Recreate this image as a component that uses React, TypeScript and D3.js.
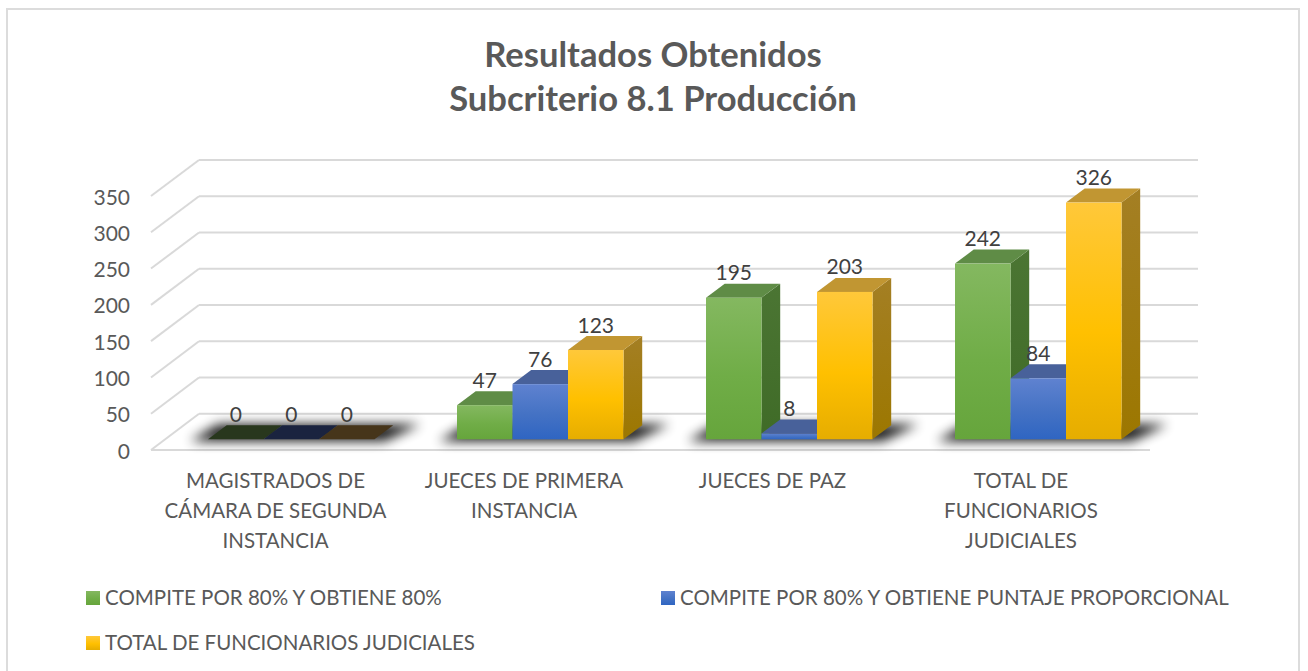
import React from 'react';
import * as d3 from 'd3';

const categories = [
  ['MAGISTRADOS DE', 'CÁMARA DE SEGUNDA', 'INSTANCIA'],
  ['JUECES DE PRIMERA', 'INSTANCIA'],
  ['JUECES DE PAZ'],
  ['TOTAL DE', 'FUNCIONARIOS', 'JUDICIALES'],
];
const seriesNames = [
  'COMPITE POR 80% Y OBTIENE 80%',
  'COMPITE POR 80% Y OBTIENE PUNTAJE PROPORCIONAL',
  'TOTAL DE FUNCIONARIOS JUDICIALES',
];
const verde = [0, 47, 195, 242];
const azul = [0, 76, 8, 84];
const amarillo = [0, 123, 203, 326];
const seriesValues = [verde, azul, amarillo];
const yTicks = [0, 50, 100, 150, 200, 250, 300, 350];

const colors = [
  { light: '#84b860', mid: '#70ad47', dark: '#66a53c', top: '#5f8c46', side: '#4b7533', sideDark: '#3f6b27', flat: '#28371d' },
  { light: '#5f82d0', mid: '#4472c4', dark: '#2f65c2', top: '#48619a', side: '#334f88', sideDark: '#2c4a80', flat: '#1a233f' },
  { light: '#ffc83a', mid: '#ffc000', dark: '#e6ad00', top: '#c19632', side: '#a47f24', sideDark: '#9c7700', flat: '#46351a' },
];

const FONT = 'Lato, Carlito, sans-serif';
const W = 1308;
const H = 671;
const depthX = 18.7;
const depthY = 14;

const y = d3.scaleLinear().domain([0, 350]).range([439.3, 185.2]);
const x0 = d3.scaleBand<number>().domain(d3.range(4)).range([166.75, 1162.75]).paddingInner(0.3335).paddingOuter(0.16675);
const x1 = d3.scaleBand<number>().domain(d3.range(3)).range([0, 166.5]);
const gridY = d3.scaleLinear().domain([0, 350]).range([413.7, 160]);
const axisY = d3.scaleLinear().domain([0, 350]).range([450, 196]);
const labelX = d3.scaleLinear().domain([0, 3]).range([275.5, 1021]);

export default function App() {
  const bw = x1.bandwidth();
  const groupX = (i: number) => (x0(i) as number) + x0.bandwidth() / 2 - 83.25;

  return (
    <svg width={W} height={H} style={{ position: 'absolute', left: 0, top: 0 }} fontFamily={FONT}>
      <defs>
        {colors.map((c, i) => (
          <React.Fragment key={i}>
            <linearGradient id={`front${i}`} x1="0" y1="0" x2="0" y2="1">
              <stop offset="0" stopColor={c.light} />
              <stop offset="0.55" stopColor={c.mid} />
              <stop offset="1" stopColor={c.dark} />
            </linearGradient>
            <linearGradient id={`side${i}`} x1="0" y1="0" x2="0" y2="1">
              <stop offset="0" stopColor={c.side} />
              <stop offset="1" stopColor={c.sideDark} />
            </linearGradient>
          </React.Fragment>
        ))}
        <filter id="sombra" x="-20%" y="-100%" width="140%" height="300%">
          <feGaussianBlur stdDeviation="6" />
        </filter>
      </defs>

      <rect x={0} y={0} width={W} height={H} fill="#fff" />
      <rect x={7} y={9} width={1292} height={680} fill="#fff" stroke="#dcdcdc" strokeWidth={2} />

      <text x={653} y={67} textAnchor="middle" fontSize={34.6} fontWeight={700} fill="#595959">Resultados Obtenidos</text>
      <text x={653} y={111} textAnchor="middle" fontSize={34.6} fontWeight={700} fill="#595959">Subcriterio 8.1 Producción</text>

      {/* paredes y piso */}
      {yTicks.map((t) => (
        <g key={t} stroke="#d9d9d9" strokeWidth={2} fill="none">
          <line x1={199} x2={1198} y1={gridY(t)} y2={gridY(t)} />
          <line x1={151} x2={199} y1={axisY(t)} y2={gridY(t)} />
        </g>
      ))}
      <line x1={151} x2={1150} y1={450} y2={450} stroke="#d9d9d9" strokeWidth={2} />

      {yTicks.map((t) => (
        <text key={t} x={130} y={axisY(t) + 8.5} textAnchor="end" fontSize={21} fill="#595959">{t}</text>
      ))}

      {/* sombras */}
      {categories.map((_, i) => {
        const gx = groupX(i);
        const base = y(0);
        return (
          <path
            key={i}
            d={`M${gx - 18},${base + 2}L${gx + 166.5 + 10},${base + 2}L${gx + 166.5 + 46},${base - depthY - 1}L${gx + 10},${base - depthY - 1}Z`}
            fill="#000"
            opacity={0.9}
            filter="url(#sombra)"
          />
        );
      })}

      {/* barras */}
      {categories.map((_, i) => (
        <g key={i}>
          {seriesValues.map((vals, s) => {
            const v = vals[i];
            const left = groupX(i) + (x1(s) as number);
            const right = left + bw;
            const top = y(v);
            const base = y(0);
            const c = colors[s];
            const flat = v === 0;
            return (
              <g key={s}>
                {!flat && (
                  <path
                    d={`M${right},${top}L${right + depthX},${top - depthY}L${right + depthX},${base - depthY}L${right},${base}Z`}
                    fill={`url(#side${s})`}
                  />
                )}
                <path
                  d={`M${left},${top}L${left + depthX},${top - depthY}L${right + depthX},${top - depthY}L${right},${top}Z`}
                  fill={flat ? c.flat : c.top}
                />
                {!flat && <rect x={left} y={top} width={bw} height={base - top} fill={`url(#front${s})`} />}
              </g>
            );
          })}
        </g>
      ))}

      {/* etiquetas de datos */}
      {categories.map((_, i) =>
        seriesValues.map((vals, s) => (
          <text
            key={`${i}-${s}`}
            x={groupX(i) + (x1(s) as number) + bw / 2}
            y={y(vals[i]) - depthY - 3.5}
            textAnchor="middle"
            fontSize={21}
            fill="#404040"
          >
            {vals[i]}
          </text>
        )),
      )}

      {/* categorias */}
      {categories.map((lines, i) => (
        <text key={i} textAnchor="middle" fontSize={20.5} fill="#595959">
          {lines.map((l, k) => (
            <tspan key={k} x={labelX(i)} y={487.5 + k * 30}>{l}</tspan>
          ))}
        </text>
      ))}

      {/* leyenda */}
      {seriesNames.map((name, s) => {
        const lx = s === 1 ? 661 : 86;
        const ly = s === 2 ? 636 : 591;
        return (
          <g key={s}>
            <rect x={lx} y={ly} width={14} height={14} fill={`url(#front${s})`} />
            <text x={lx + 19} y={ly + 14} fontSize={20.5} fill="#595959">{name}</text>
          </g>
        );
      })}
    </svg>
  );
}
